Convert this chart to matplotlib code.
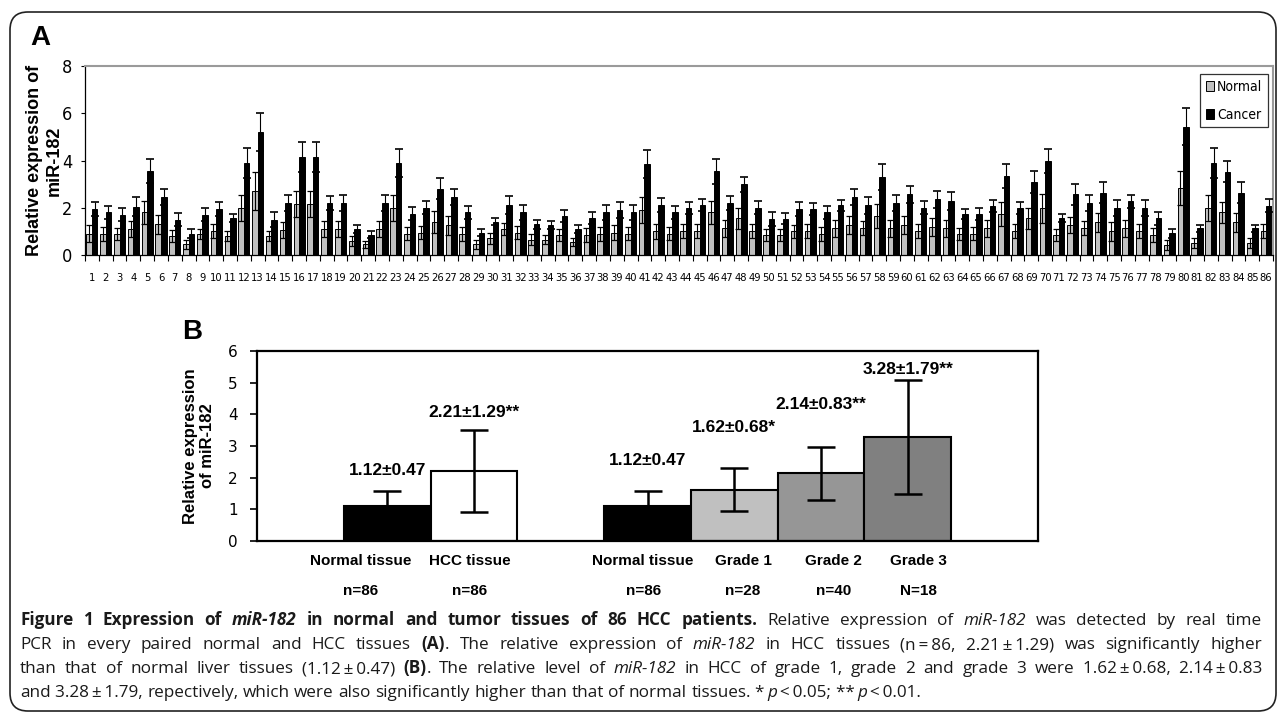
import numpy as np
import matplotlib
matplotlib.use('Agg')
import matplotlib.pyplot as plt
from matplotlib import font_manager as fm
from matplotlib.font_manager import FontProperties
from matplotlib.patches import FancyBboxPatch
from matplotlib.transforms import IdentityTransform

# ---- panel A data: 86 paired samples ----
patients = np.arange(1, 87)
normal = [0.9, 0.9, 0.9, 1.1, 1.8, 1.3, 0.8, 0.45, 0.9, 1.0,
          0.8, 2.0, 2.7, 0.8, 1.05, 2.15, 2.15, 1.1, 1.1, 0.6,
          0.45, 1.1, 2.0, 0.9, 0.95, 1.4, 1.25, 0.9, 0.45, 0.7,
          1.1, 0.95, 0.65, 0.65, 0.85, 0.55, 0.85, 0.9, 0.95, 0.9,
          1.9, 1.0, 0.9, 1.0, 1.0, 1.8, 1.13, 1.55, 1.0, 0.85,
          0.85, 1.0, 1.0, 0.9, 1.13, 1.27, 1.13, 1.65, 1.13, 1.27,
          1.0, 1.17, 1.13, 0.9, 0.9, 1.13, 1.73, 1.0, 1.55, 1.97,
          0.85, 1.27, 1.13, 1.38, 1.0, 1.13, 1.0, 0.85, 0.42, 2.82,
          0.5, 1.97, 1.8, 1.38, 0.5, 1.0]
normal_err = [0.35, 0.3, 0.25, 0.35, 0.5, 0.4, 0.25, 0.18, 0.22, 0.3,
              0.22, 0.55, 0.8, 0.22, 0.35, 0.55, 0.55, 0.35, 0.35, 0.2,
              0.15, 0.35, 0.55, 0.28, 0.28, 0.45, 0.4, 0.3, 0.2, 0.22,
              0.25, 0.28, 0.22, 0.2, 0.25, 0.15, 0.3, 0.3, 0.3, 0.28,
              0.55, 0.33, 0.28, 0.3, 0.3, 0.5, 0.35, 0.45, 0.3, 0.25,
              0.25, 0.28, 0.3, 0.3, 0.35, 0.4, 0.3, 0.5, 0.35, 0.4,
              0.3, 0.38, 0.35, 0.25, 0.28, 0.35, 0.5, 0.3, 0.45, 0.6,
              0.25, 0.35, 0.3, 0.4, 0.4, 0.35, 0.3, 0.3, 0.22, 0.72,
              0.2, 0.55, 0.45, 0.4, 0.2, 0.3]
cancer = [1.95, 1.8, 1.7, 2.05, 3.55, 2.45, 1.5, 0.9, 1.7, 1.95,
          1.55, 3.9, 5.2, 1.5, 2.2, 4.15, 4.15, 2.2, 2.2, 1.1,
          0.85, 2.2, 3.9, 1.75, 2.0, 2.8, 2.45, 1.8, 0.95, 1.4,
          2.1, 1.8, 1.3, 1.25, 1.65, 1.1, 1.55, 1.8, 1.9, 1.8,
          3.85, 2.1, 1.8, 2.0, 2.1, 3.55, 2.2, 3.0, 2.0, 1.52,
          1.54, 1.95, 1.95, 1.8, 2.1, 2.47, 2.1, 3.29, 2.2, 2.57,
          2.0, 2.35, 2.28, 1.73, 1.73, 2.09, 3.36, 2.0, 3.09, 3.98,
          1.58, 2.57, 2.2, 2.64, 2.0, 2.28, 2.0, 1.55, 0.92, 5.43,
          1.13, 3.88, 3.53, 2.64, 1.13, 2.09]
cancer_err = [0.3, 0.27, 0.28, 0.4, 0.5, 0.35, 0.28, 0.18, 0.28, 0.3,
              0.17, 0.62, 0.8, 0.3, 0.35, 0.62, 0.62, 0.3, 0.33, 0.15,
              0.15, 0.33, 0.6, 0.28, 0.28, 0.45, 0.33, 0.28, 0.15, 0.15,
              0.38, 0.3, 0.2, 0.17, 0.25, 0.15, 0.25, 0.3, 0.33, 0.3,
              0.6, 0.3, 0.28, 0.25, 0.25, 0.53, 0.3, 0.32, 0.27, 0.28,
              0.24, 0.3, 0.27, 0.27, 0.24, 0.34, 0.35, 0.55, 0.35, 0.36,
              0.28, 0.34, 0.38, 0.22, 0.25, 0.25, 0.51, 0.25, 0.46, 0.52,
              0.17, 0.45, 0.33, 0.46, 0.33, 0.27, 0.33, 0.28, 0.18, 0.78,
              0.15, 0.63, 0.45, 0.45, 0.15, 0.27]

# ---- panel B data ----
groups = ['Normal tissue', 'HCC tissue', 'Normal tissue', 'Grade 1', 'Grade 2', 'Grade 3']
group_n = ['n=86', 'n=86', 'n=86', 'n=28', 'n=40', 'N=18']
means = [1.12, 2.21, 1.12, 1.62, 2.14, 3.28]
sds = [0.47, 1.29, 0.47, 0.68, 0.83, 1.79]
stars = ['', '**', '', '*', '**', '**']
bar_pos = [1.5, 2.5, 4.5, 5.5, 6.5, 7.5]
bar_colors = ['black', 'white', 'black', '#c0c0c0', '#969696', '#808080']
label_x = [1.19, 2.45, 4.45, 5.6, 6.64, 7.62]
value_y = [2.0, 3.82, 2.3, 3.35, 4.07, 5.18]

W, H = 1282, 716
fig = plt.figure(figsize=(W / 100, H / 100), dpi=100)

arial = ['Liberation Sans', 'DejaVu Sans']
capfont = ['Open Sans', 'DejaVu Sans']

# look for a condensed face for the squeezed excel-style labels in panel A
cond_file = None
for f in fm.fontManager.ttflist:
    nm = f.name + ' ' + str(f.stretch)
    if ('Narrow' in nm or 'ondensed' in nm) and f.style == 'normal' and str(f.weight) in ('400', 'normal', 'regular', 'book'):
        cond_file = f.fname
        break


def narrow_fp(size):
    if cond_file:
        return FontProperties(fname=cond_file, size=size)
    return FontProperties(family='Liberation Sans', size=size * 0.82)


# outer rounded frame
frame = FancyBboxPatch((10 / W, 1 - 711 / H), 1266 / W, 699 / H,
                       boxstyle='round,pad=0,rounding_size=0.014',
                       transform=fig.transFigure, fill=False, lw=1.2,
                       edgecolor='#222222', mutation_aspect=W / H)
fig.patches.append(frame)

# ---------------- panel A ----------------
axA = fig.add_axes([85 / W, 1 - 255 / H, 1188 / W, 189 / H])
w = 0.4
axA.bar(patients - 0.2, normal, w, color='#c0c0c0', edgecolor='black', lw=0.7,
        label='Normal', zorder=2)
axA.bar(patients + 0.2, cancer, w, color='black', edgecolor='black', lw=0.7,
        label='Cancer', zorder=2)
axA.errorbar(patients - 0.2, normal, yerr=normal_err, fmt='none', ecolor='black',
             elinewidth=0.8, capsize=2, capthick=0.9, zorder=3)
axA.errorbar(patients + 0.2, cancer, yerr=cancer_err, fmt='none', ecolor='black',
             elinewidth=0.8, capsize=2.8, capthick=1.2, zorder=3)
axA.set_xlim(0.5, 86.5)
axA.set_ylim(0, 8)
axA.set_yticks([0, 2, 4, 6, 8])
axA.set_yticklabels(['0', '2', '4', '6', '8'], fontproperties=narrow_fp(13))
axA.set_xticks(np.arange(0.5, 87, 1))
axA.set_xticklabels([])
axA.set_xticks(patients, minor=True)
axA.set_xticklabels([str(p) for p in patients], minor=True, fontproperties=narrow_fp(8))
axA.tick_params(axis='x', which='major', length=4, direction='out', width=0.8)
axA.tick_params(axis='x', which='minor', length=0, pad=13)
axA.tick_params(axis='y', length=3, direction='out', width=0.8, pad=6)
for s in ['top', 'right']:
    axA.spines[s].set_color('#9a9a9a')
    axA.spines[s].set_linewidth(1.5)
axA.spines['left'].set_linewidth(0.9)
axA.spines['bottom'].set_linewidth(0.9)
axA.set_ylabel('Relative expression of\nmiR-182', family=arial, fontweight='bold',
               fontsize=13, linespacing=1.25)
axA.yaxis.set_label_coords(-0.0185, 0.5)
leg = axA.legend(loc='upper right', bbox_to_anchor=(0.998, 0.97), prop=narrow_fp(10),
                 frameon=True, fancybox=False, edgecolor='black', handlelength=0.6,
                 handletextpad=0.2, borderpad=0.4, labelspacing=1.0, borderaxespad=0.2)
leg.get_frame().set_linewidth(0.9)
fig.text(30 / W, 1 - 38 / H, 'A', family=arial, fontweight='bold', fontsize=20, va='center', ha='left')

# ---------------- panel B ----------------
axB = fig.add_axes([257 / W, 1 - 541 / H, 781 / W, 190 / H])
axB.bar(bar_pos, means, 1.0, color=bar_colors, edgecolor='black', lw=1.5, zorder=2)
axB.errorbar(bar_pos, means, yerr=sds, fmt='none', ecolor='black', elinewidth=1.8,
             capsize=10, capthick=1.8, zorder=3)
for xp, m, sd, st, yv in zip(bar_pos, means, sds, stars, value_y):
    axB.text(xp, yv, f'{m:.2f}\u00b1{sd:.2f}{st}', ha='center', va='bottom',
             family=arial, fontweight='bold', fontsize=12.5)
axB.set_xlim(0, 9)
axB.set_ylim(0, 6)
axB.set_yticks(range(7))
axB.set_yticklabels([str(v) for v in range(7)], family=['DejaVu Sans'], fontsize=11)
axB.set_xticks([])
axB.tick_params(axis='y', length=5, width=1.2, pad=9)
for s in axB.spines.values():
    s.set_linewidth(1.6)
for lx, g, n in zip(label_x, groups, group_n):
    axB.text(lx, -0.105, g, transform=axB.get_xaxis_transform(), ha='center', va='center',
             family=arial, fontweight='bold', fontsize=11)
    axB.text(lx, -0.262, n, transform=axB.get_xaxis_transform(), ha='center', va='center',
             family=arial, fontweight='bold', fontsize=11)
axB.set_ylabel('Relative expression\nof miR-182', family=arial, fontweight='bold',
               fontsize=12, linespacing=1.15)
axB.yaxis.set_label_coords(-0.054, 0.5)
fig.text(182 / W, 1 - 332 / H, 'B', family=arial, fontweight='bold', fontsize=20, va='center', ha='left')

# ---------------- caption (justified) ----------------
B_, I_, BI, R_ = 'b', 'i', 'bi', 'r'
T = '\u2009'
cap_lines = [
    [('Figure 1 Expression of ', B_), ('miR-182', BI),
     (' in normal and tumor tissues of 86 HCC patients.', B_),
     (' Relative expression of ', R_), ('miR-182', I_), (' was detected by real time', R_)],
    [('PCR in every paired normal and HCC tissues ', R_), ('(A)', B_),
     ('. The relative expression of ', R_), ('miR-182', I_),
     (' in HCC tissues (n' + T + '=' + T + '86, 2.21' + T + '\u00b1' + T + '1.29) was significantly higher', R_)],
    [('than that of normal liver tissues (1.12' + T + '\u00b1' + T + '0.47) ', R_), ('(B)', B_),
     ('. The relative level of ', R_), ('miR-182', I_),
     (' in HCC of grade 1, grade 2 and grade 3 were 1.62' + T + '\u00b1' + T + '0.68, 2.14' + T + '\u00b1' + T + '0.83', R_)],
    [('and 3.28' + T + '\u00b1' + T + '1.79, repectively, which were also significantly higher than that of normal tissues. *' + T, R_),
     ('p', I_), (T + '<' + T + '0.05; **' + T, R_), ('p', I_), (T + '<' + T + '0.01.', R_)],
]
cap_base = [625, 649, 673, 697]
cap_left, cap_right = 20, 1262
cap_size = 12.3
styles = {'b': dict(fontweight='bold'), 'i': dict(style='italic'),
          'bi': dict(fontweight='bold', style='italic'), 'r': dict()}

renderer = fig.canvas.get_renderer()


def words_of(runs):
    words = [[]]
    for txt, st in runs:
        parts = txt.split(' ')
        for k, p in enumerate(parts):
            if k > 0:
                words.append([])
            if p:
                words[-1].append((p, st))
    return [wd for wd in words if wd]


def place_line(runs, yb, justify):
    words = words_of(runs)
    items = []
    total = 0
    for wd in words:
        pieces = []
        for p, st in wd:
            t = fig.text(0, 0, p, transform=IdentityTransform(), family=capfont,
                         fontsize=cap_size, va='baseline', ha='left', color='#1a1a1a', **styles[st])
            pw = t.get_window_extent(renderer).width
            pieces.append((t, pw))
            total += pw
        items.append(pieces)
    gap = cap_size * 100 / 72 * 0.26
    if justify:
        gap = (cap_right - cap_left - total) / (len(items) - 1)
    x = cap_left
    for pieces in items:
        for t, pw in pieces:
            t.set_position((x, H - yb))
            x += pw
        x += gap


for k, (runs, yb) in enumerate(zip(cap_lines, cap_base)):
    place_line(runs, yb, k < len(cap_lines) - 1)

fig.savefig('out.png', dpi=100)
